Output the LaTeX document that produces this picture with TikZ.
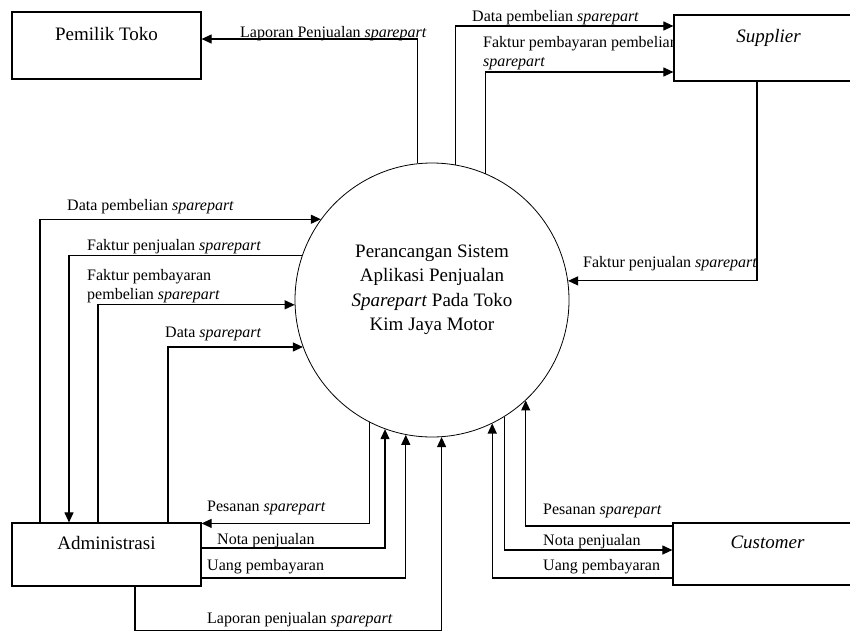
\documentclass[tikz,border=0pt]{standalone}
\usepackage{fontspec}
\setmainfont{Liberation Serif}
\usetikzlibrary{arrows.meta}

\begin{document}
\begin{tikzpicture}[x=1pt,y=-1pt,
  entity/.style={draw,fill=white,line width=1.2pt,minimum width=189pt,minimum height=66pt,
    font=\fontsize{19}{24}\selectfont,text height=13pt,text depth=24pt},
  process/.style={draw,circle,line width=0.8pt,minimum size=274pt,inner sep=0pt},
  flow/.style={line width=1.1pt,-{Triangle[length=10pt,width=9pt]}},
  lbl/.style={inner sep=0pt,font=\fontsize{16}{19}\selectfont}]
\useasboundingbox (0,0) rectangle (850,632);
\node[lbl,anchor=north west,align=left] (tBayarSup) at (483,36) {Faktur pembayaran pembelian\\\textit{sparepart}};
\node[entity,minimum height=67pt] (pemilik) at (106.5,45.5) {Pemilik Toko};
\node[entity] (supplier) at (768.5,48) {\textit{Supplier}};
\node[entity,minimum height=63pt] (admin) at (106.5,554.5) {Administrasi};
\node[entity,minimum height=62pt] (customer) at (767.5,554) {\textit{Customer}};
\node[process,label={[align=center,yshift=10pt,font=\fontsize{19}{24.5}\selectfont]center:Perancangan Sistem\\Aplikasi Penjualan\\\textit{Sparepart} Pada Toko\\Kim Jaya Motor}] (proc) at (432,300) {};
\node[lbl,anchor=base west] (tLapPemilik) at (240,37) {Laporan Penjualan \textit{sparepart}};
\node[lbl,anchor=base west] (tBeliSup) at (472,21) {Data pembelian \textit{sparepart}};
\node[lbl,anchor=base west] (tJualSup) at (583,267) {Faktur penjualan \textit{sparepart}};
\node[lbl,anchor=base west] (tBeliAdm) at (67,210) {Data pembelian \textit{sparepart}};
\node[lbl,anchor=base west] (tJualAdm) at (87,250) {Faktur penjualan \textit{sparepart}};
\node[lbl,anchor=north west,align=left] (tBayarAdm) at (87,269) {Faktur pembayaran\\pembelian \textit{sparepart}};
\node[lbl,anchor=base west] (tDataAdm) at (165,337) {Data \textit{sparepart}};
\node[lbl,anchor=base west] (tPesanAdm) at (207,511) {Pesanan \textit{sparepart}};
\node[lbl,anchor=base west] (tNotaAdm) at (217,544) {Nota penjualan};
\node[lbl,anchor=base west] (tUangAdm) at (207,570) {Uang pembayaran};
\node[lbl,anchor=base west] (tLapAdm) at (207,623) {Laporan penjualan \textit{sparepart}};
\node[lbl,anchor=base west] (tPesanCus) at (543,514) {Pesanan \textit{sparepart}};
\node[lbl,anchor=base west] (tNotaCus) at (543,545) {Nota penjualan};
\node[lbl,anchor=base west] (tUangCus) at (543,570) {Uang pembayaran};
% pemilik toko dan supplier
\draw [flow] (proc.96) |- ([yshift=6.5pt]pemilik.east);
\draw [flow] (proc.80) |- ([yshift=22pt]supplier.west);
\draw [flow] (proc.67.7) |- ([yshift=-24pt]supplier.west);
\draw [flow] ([xshift=-11.5pt]supplier.south) |- (proc.8.8);
% administrasi
\draw [flow] ([xshift=-66.5pt]admin.north) |- (proc.144.8);
\draw [flow] (proc.161.7) -| ([xshift=-37.5pt]admin.north);
\draw [flow] ([xshift=-8.5pt]admin.north) |- (proc.182.5);
\draw [flow] ([xshift=61.5pt]admin.north) |- (proc.200.1);
\draw [flow] (proc.243.1) |- ([yshift=-1pt]admin.north east);
\draw [flow] ([yshift=6.5pt]admin.east) -| (proc.250.8);
\draw [flow] ([yshift=-23.5pt]admin.east) -| (proc.259.1);
\draw [flow] ([xshift=28.5pt]admin.south) -- ++(0,44) -| (proc.274.6);
% customer
\draw [flow] ([yshift=28pt]customer.west) -| (proc.313.9);
\draw [flow] (proc.302.7) |- ([yshift=4pt]customer.west);
\draw [flow] ([yshift=-24pt]customer.west) -| (proc.296.4);
\end{tikzpicture}
\end{document}
